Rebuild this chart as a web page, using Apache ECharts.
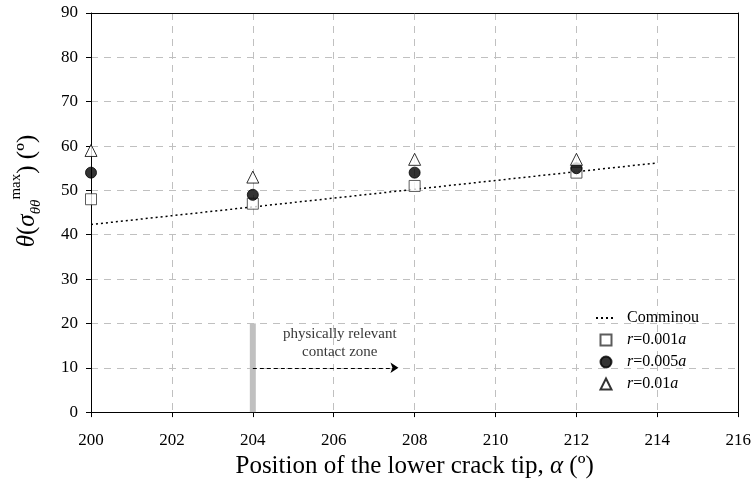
<!DOCTYPE html>
<html>
<head>
<meta charset="utf-8">
<script src="https://cdn.jsdelivr.net/npm/echarts@6/dist/echarts.min.js"></script>
<style>html,body{margin:0;padding:0;background:#fff}#c{width:754px;height:484px}</style>
</head>
<body>
<div id="c"></div>
<script>
var FONT = 'Liberation Serif';
var positions = [200, 204, 208, 212];
var r0001 = [48, 47, 51, 54];
var r0005 = [54, 49, 54, 55];
var r001 = [59, 53, 57, 57];
var comminouX = [200, 214];
var comminouY = [42.3, 56.2];
var xTicks = [200, 202, 204, 206, 208, 210, 212, 214, 216];
var yTicks = [0, 10, 20, 30, 40, 50, 60, 70, 80, 90];
var zoneBar = [[204, 0], [204, 20]];
var zoneArrow = [[204, 10], [207.6, 10]];
var zoneText = [206.15, 15.5];

function pairs(xs, ys) { return xs.map(function (x, i) { return [x, ys[i]]; }); }

var chart = echarts.init(document.getElementById('c'), null, { renderer: 'canvas' });
var axisLabelStyle = { fontFamily: FONT, fontSize: 17, color: '#000' };
var frameAxis = {
  z: 5,
  axisLine: { show: true, onZero: false, lineStyle: { color: '#000', width: 1 } },
  axisTick: { show: false }, axisLabel: { show: false }, splitLine: { show: false }
};
var option = {
  animation: false,
  backgroundColor: '#fff',
  grid: { left: 91, right: 15, top: 13, bottom: 71 },
  xAxis: [{
    type: 'value', min: xTicks[0], max: xTicks[xTicks.length - 1], interval: 2,
    axisLine: { show: true, onZero: false, lineStyle: { color: '#000', width: 1 } },
    axisTick: { show: true, inside: false, length: 5, lineStyle: { color: '#000' } },
    axisLabel: Object.assign({ margin: 20 }, axisLabelStyle),
    splitLine: { show: true, lineStyle: { color: '#c0c0c0', type: [7, 6], width: 1 } },
    name: '{n|Position of the lower crack tip, }{i|α}{n| (º)}',
    nameLocation: 'middle', nameGap: 39,
    nameTextStyle: { rich: {
      n: { fontFamily: FONT, fontSize: 25, color: '#000' },
      i: { fontFamily: FONT, fontSize: 25, fontStyle: 'italic', color: '#000' }
    } }
  }, Object.assign({ type: 'value', position: 'top', min: xTicks[0], max: xTicks[xTicks.length - 1] }, frameAxis)],
  yAxis: [{
    type: 'value', min: yTicks[0], max: yTicks[yTicks.length - 1], interval: 10,
    axisLine: { show: true, onZero: false, lineStyle: { color: '#000', width: 1 } },
    axisTick: { show: true, inside: false, length: 5, lineStyle: { color: '#000' } },
    axisLabel: Object.assign({ margin: 13 }, axisLabelStyle),
    splitLine: { show: true, lineStyle: { color: '#c0c0c0', type: [7, 6], width: 1 } }
  }, Object.assign({ type: 'value', position: 'right', min: yTicks[0], max: yTicks[yTicks.length - 1] }, frameAxis)],
  legend: {
    orient: 'vertical', left: 590, top: 305, itemGap: 6, itemWidth: 20, itemHeight: 11,
    symbolKeepAspect: true,
    data: [
      { name: 'Comminou', itemStyle: { opacity: 0 } },
      { name: 'r=0.001a', icon: 'path://M0,0H10V10H0Z' },
      { name: 'r=0.005a', icon: 'circle' },
      { name: 'r=0.01a', icon: 'path://M5,0L10,10H0Z' }
    ],
    formatter: function (name) {
      if (name === 'Comminou') return '{n|Comminou}';
      var m = name.match(/^r(=[0-9.]+)a$/);
      return '{i|r}{n|' + m[1] + '}{i|a}';
    },
    textStyle: { padding: [0, 0, 0, 6], rich: {
      n: { fontFamily: FONT, fontSize: 16, color: '#000' },
      i: { fontFamily: FONT, fontSize: 16, fontStyle: 'italic', color: '#000' }
    } }
  },
  graphic: [{
    type: 'text', x: 27, y: 191, rotation: Math.PI / 2,
    style: {
      text: '{i|θ}{n|(}{i|σ}{sub|θθ}{sup|max}{n|) (º)}',
      align: 'center', verticalAlign: 'middle',
      rich: {
        n: { fontFamily: FONT, fontSize: 25, color: '#000', lineHeight: 37 },
        i: { fontFamily: FONT, fontSize: 25, fontStyle: 'italic', color: '#000', lineHeight: 37 },
        sub: { fontFamily: FONT, fontSize: 15, fontStyle: 'italic', color: '#000', verticalAlign: 'bottom', lineHeight: 37, padding: [0, 0, 2, 0] },
        sup: { fontFamily: FONT, fontSize: 15, color: '#000', verticalAlign: 'top', lineHeight: 37 }
      }
    }
  }],
  series: [
    {
      name: 'zone', type: 'line', data: zoneBar, symbol: 'none', silent: true, z: 1,
      lineStyle: { color: '#c0c0c0', width: 6 },
      markLine: {
        silent: true, symbol: ['none', 'arrow'], symbolSize: 8,
        itemStyle: { color: '#000' },
        lineStyle: { color: '#000', type: [4, 3], width: 1 },
        label: { show: false },
        data: [[{ coord: zoneArrow[0] }, { coord: zoneArrow[1] }]]
      }
    },
    {
      name: 'zoneText', type: 'scatter', data: [zoneText], symbolSize: 0, silent: true,
      label: { show: true, position: 'inside', formatter: 'physically relevant\ncontact zone',
        fontFamily: FONT, fontSize: 15, lineHeight: 18, color: '#000' }
    },
    {
      name: 'Comminou', type: 'line', data: pairs(comminouX, comminouY), symbol: 'none',
      lineStyle: { color: '#000', type: [2, 3], width: 1.5 }, z: 3
    },
    {
      name: 'r=0.001a', type: 'scatter', data: pairs(positions, r0001), symbol: 'rect', symbolSize: 11,
      itemStyle: { color: '#fff', borderColor: '#333', borderWidth: 1 }, z: 4
    },
    {
      name: 'r=0.005a', type: 'scatter', data: pairs(positions, r0005), symbol: 'circle', symbolSize: 11,
      itemStyle: { color: '#000', borderColor: '#000', borderWidth: 1 }, z: 5
    },
    {
      name: 'r=0.01a', type: 'scatter', data: pairs(positions, r001), symbol: 'triangle', symbolSize: 12,
      itemStyle: { color: '#fff', borderColor: '#000', borderWidth: 1 }, z: 6
    }
  ]
};
chart.setOption(option);
</script>
</body>
</html>
